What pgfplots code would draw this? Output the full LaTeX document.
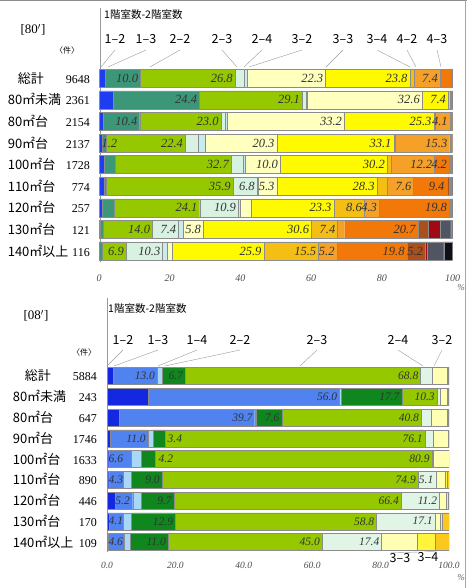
\documentclass[border=0pt]{standalone}
\usepackage{fontspec}
\setmainfont{Liberation Serif}
\newfontfamily\jp{Noto Sans CJK JP}
\usepackage{pgfplots}
\pgfplotsset{compat=1.18}
% top colours
\definecolor{c12}{RGB}{30,60,240}
\definecolor{c13}{RGB}{60,150,120}
\definecolor{c22}{RGB}{150,200,0}
\definecolor{c23}{RGB}{215,242,225}
\definecolor{c24}{RGB}{200,235,240}
\definecolor{c32}{RGB}{255,255,190}
\definecolor{c33}{RGB}{255,250,0}
\definecolor{c34}{RGB}{245,190,20}
\definecolor{c42}{RGB}{245,160,40}
\definecolor{c43}{RGB}{242,120,10}
\definecolor{cbr}{RGB}{170,80,30}
\definecolor{cdr}{RGB}{160,10,20}
\definecolor{cgr}{RGB}{80,85,100}
\definecolor{cbk}{RGB}{15,15,25}
% bottom colours
\definecolor{d12}{RGB}{20,40,225}
\definecolor{d13}{RGB}{80,130,240}
\definecolor{d14}{RGB}{170,215,245}
\definecolor{d22}{RGB}{15,135,30}
\definecolor{d23}{RGB}{150,200,0}
\definecolor{d24}{RGB}{225,245,230}
\definecolor{d32}{RGB}{255,255,180}
\definecolor{d33}{RGB}{255,245,60}
\definecolor{d34}{RGB}{250,200,30}
\newlength\ut \setlength\ut{1.7675pt}
\newlength\ub \setlength\ub{1.71pt}
% labels: node sits at the middle of the segment; box reaches to the segment end
\protected\def\T#1{\makebox[#1\ut][r]{#1\hspace{2.5pt}}}
\protected\def\B#1{\makebox[#1\ub][r]{#1\hspace{2.5pt}}}
\protected\def\sft#1#2{\makebox[0pt][l]{\hspace{#1}#2}}
\protected\def\nil{}
\protected\def\rowlab#1#2#3{\makebox[#3][l]{\jp\fontsize{13}{13}\selectfont #1}\llap{\fontsize{12}{12}\selectfont #2}}
\begin{document}
\begin{tikzpicture}[x=1pt,y=1pt]
\path[use as bounding box] (0,0) rectangle (467,588);
\draw[black!45,line width=1pt] (0,587.5) -- (467,587.5);
\draw[black!35,line width=0.8pt] (465.5,0) -- (465.5,588);
% ---------------- top chart --------------
\node[font=\fontsize{13}{13}\selectfont] at (33,558) {[80$'$]};
\node[font=\jp\fontsize{8}{8}\selectfont] at (67,538) {〈件〉};
\node[anchor=west,font=\jp\fontsize{10.5}{10.5}\selectfont,inner sep=0pt] at (104,573) {1階室数-2階室数};
\draw[black!40,line width=0.5pt] (100.5,580) -- (100.5,326);
\begin{axis}[
  at={(99pt,326.2pt)}, anchor=south west, scale only axis,
  width=353.5pt, height=194.4pt,
  xbar stacked, bar width=18pt, y dir=reverse,
  xmin=0, xmax=100, ymin=-0.5, ymax=8.5,
  axis line style={draw=none}, major tick length=0pt,
  xtick={0,20,...,100},
  xticklabel style={font=\fontsize{10}{10}\selectfont\itshape, text=black!70, yshift=-10pt},
  /pgf/number format/assume math mode=true,
  ytick={0,...,8},
  yticklabels={
    \rowlab{\hspace{10pt}総計}{9648}{82pt},
    \rowlab{80㎡未満}{2361}{82pt},
    \rowlab{80㎡台}{2154}{82pt},
    \rowlab{90㎡台}{2137}{82pt},
    \rowlab{100㎡台}{1728}{82pt},
    \rowlab{110㎡台}{774}{82pt},
    \rowlab{120㎡台}{257}{82pt},
    \rowlab{130㎡台}{121}{82pt},
    \rowlab{140㎡以上}{116}{82pt}},
  yticklabel style={anchor=east, inner sep=0pt, xshift=-9pt},
  every axis plot/.append style={draw=black!45, line width=0.3pt},
  every node near coord/.append style={anchor=west, inner sep=0pt, xshift=0pt,
     font=\fontsize{12.5}{12.5}\selectfont\itshape, text=black!80},
]
\addplot[fill=c12] coordinates {(1.7,0) (4.0,1) (1.1,2) (0.8,3) (1.5,4) (1.5,5) (0.9,6) (0.3,7) (0.0,8)};
\addplot[fill=c13, nodes near coords, point meta=explicit symbolic] coordinates {
 (10.0,0)[\T{10.0}] (24.4,1)[\T{24.4}] (10.4,2)[\T{10.4}] (1.2,3)[\sft{-3pt}{1.2}] (3.2,4)[\nil] (0.5,5)[\nil] (3.5,6)[\nil] (0.8,7)[\nil] (0.8,8)[\nil]};
\addplot[fill=c22, nodes near coords, point meta=explicit symbolic] coordinates {
 (26.8,0)[\T{26.8}] (29.1,1)[\T{29.1}] (23.0,2)[\T{23.0}] (22.4,3)[\T{22.4}] (32.7,4)[\T{32.7}] (35.9,5)[\T{35.9}] (24.1,6)[\T{24.1}] (14.0,7)[\T{14.0}] (6.9,8)[\T{6.9}]};
\addplot[fill=c23, nodes near coords, point meta=explicit symbolic] coordinates {
 (2.5,0)[\nil] (1.0,1)[\nil] (1.2,2)[\nil] (3.6,3)[\nil] (3.4,4)[\nil] (6.8,5)[\T{6.8}] (10.9,6)[\T{10.9}] (7.4,7)[\T{7.4}] (10.3,8)[\T{10.3}]};
\addplot[fill=c24] coordinates {(0.8,0) (0.3,1) (0.5,2) (2.0,3) (0.5,4) (0.3,5) (0.5,6) (1.2,7) (1.2,8)};
\addplot[fill=c32, nodes near coords, point meta=explicit symbolic] coordinates {
 (22.3,0)[\T{22.3}] (32.6,1)[\T{32.6}] (33.2,2)[\T{33.2}] (20.3,3)[\T{20.3}] (10.0,4)[\T{10.0}] (5.3,5)[\T{5.3}] (3.2,6)[\nil] (5.8,7)[\T{5.8}] (1.5,8)[\nil]};
\addplot[fill=c33, nodes near coords, point meta=explicit symbolic] coordinates {
 (23.8,0)[\T{23.8}] (7.4,1)[\T{7.4}] (25.3,2)[\T{25.3}] (33.1,3)[\T{33.1}] (30.2,4)[\T{30.2}] (28.3,5)[\T{28.3}] (23.3,6)[\T{23.3}] (30.6,7)[\T{30.6}] (25.9,8)[\T{25.9}]};
\addplot[fill=c34, nodes near coords, point meta=explicit symbolic] coordinates {
 (1.2,0)[\nil] (0.4,1)[\nil] (0.5,2)[\nil] (0.5,3)[\nil] (1.2,4)[\nil] (2.8,5)[\nil] (8.6,6)[\T{8.6}] (7.4,7)[\T{7.4}] (15.5,8)[\T{15.5}]};
\addplot[fill=c42, nodes near coords, point meta=explicit symbolic] coordinates {
 (7.4,0)[\T{7.4}] (0.5,1)[\nil] (4.1,2)[\T{4.1}] (15.3,3)[\T{15.3}] (12.2,4)[\T{12.2}] (7.6,5)[\T{7.6}] (4.3,6)[\T{4.3}] (2.0,7)[\nil] (5.2,8)[\T{5.2}]};
\addplot[fill=c43, nodes near coords, point meta=explicit symbolic] coordinates {
 (3.1,0)[\nil] (0.2,1)[\nil] (0.6,2)[\nil] (0.8,3)[\nil] (4.2,4)[\T{4.2}] (9.4,5)[\T{9.4}] (19.8,6)[\T{19.8}] (20.7,7)[\T{20.7}] (19.8,8)[\T{19.8}]};
\addplot[fill=cbr, nodes near coords, point meta=explicit symbolic] coordinates {
 (0.2,0)[\nil] (0.0,1)[\nil] (0.1,2)[\nil] (0.0,3)[\nil] (0.3,4)[\nil] (0.6,5)[\nil] (0.3,6)[\nil] (2.8,7)[\nil] (5.2,8)[\T{5.2}]};
\addplot[fill=cdr] coordinates {(0.1,0) (0.0,1) (0.0,2) (0.0,3) (0.2,4) (0.4,5) (0.2,6) (3.4,7) (0.5,8)};
\addplot[fill=cgr] coordinates {(0.1,0) (0.0,1) (0.0,2) (0.0,3) (0.2,4) (0.3,5) (0.3,6) (3.1,7) (4.7,8)};
\addplot[fill=cbk] coordinates {(0.0,0) (0.1,1) (0.0,2) (0.0,3) (0.2,4) (0.3,5) (0.1,6) (0.5,7) (2.5,8)};
\end{axis}
\node[font=\fontsize{9}{9}\selectfont\itshape,text=black!60] at (461,300) {\%};
% callouts top
\begin{scope}[every node/.style={font=\jp\fontsize{12.5}{12.5}\selectfont, inner sep=0pt}]
\foreach \lx/\sx/\t in {115/101/1–2, 146/108/1–3, 180/150/2–2, 222/237/2–3, 262/244/2–4, 302/249/3–2, 343/326/3–3, 377/410/3–4, 407/416/4–2, 437/441/4–3}{
  \node at (\lx,549) {\t};
  \draw[black!40,line width=0.4pt] (\lx,538) -- (\sx,521);
}
\end{scope}
% ---------------- bottom chart --------------
\node[font=\fontsize{13}{13}\selectfont] at (36,272) {[08$'$]};
\node[font=\jp\fontsize{8}{8}\selectfont] at (84,236) {〈件〉};
\node[anchor=west,font=\jp\fontsize{10.5}{10.5}\selectfont,inner sep=0pt] at (108,279) {1階室数-2階室数};
\draw[black!40,line width=0.5pt] (107,290) -- (107,36);
\begin{axis}[
  at={(107pt,35.6pt)}, anchor=south west, scale only axis,
  width=342pt, height=186.75pt,
  xbar stacked, bar width=17pt, y dir=reverse,
  xmin=0, xmax=100, ymin=-0.5, ymax=8.5,
  axis line style={draw=none}, major tick length=0pt,
  xtick={0,20,...,100},
  xticklabel style={font=\fontsize{9.5}{9.5}\selectfont\itshape, text=black!70, yshift=-6pt,
     /pgf/number format/.cd, fixed, fixed zerofill, precision=1},
  /pgf/number format/assume math mode=true,
  ytick={0,...,8},
  yticklabels={
    \rowlab{\hspace{12pt}総計}{5884}{84pt},
    \rowlab{80㎡未満}{243}{84pt},
    \rowlab{80㎡台}{647}{84pt},
    \rowlab{90㎡台}{1746}{84pt},
    \rowlab{100㎡台}{1633}{84pt},
    \rowlab{110㎡台}{890}{84pt},
    \rowlab{120㎡台}{446}{84pt},
    \rowlab{130㎡台}{170}{84pt},
    \rowlab{140㎡以上}{109}{84pt}},
  yticklabel style={anchor=east, inner sep=0pt, xshift=-10pt},
  every axis plot/.append style={draw=black!45, line width=0.3pt},
  every node near coord/.append style={anchor=west, inner sep=0pt, xshift=0pt,
     font=\fontsize{11.5}{11.5}\selectfont\itshape, text=black!80},
]
\addplot[fill=d12] coordinates {(1.7,0) (12.0,1) (3.5,2) (1.0,3) (0.5,4) (0.5,5) (2.3,6) (0.6,7) (0.3,8)};
\addplot[fill=d13, nodes near coords, point meta=explicit symbolic] coordinates {
 (13.0,0)[\B{13.0}] (56.0,1)[\B{56.0}] (39.7,2)[\B{39.7}] (11.0,3)[\B{11.0}] (6.6,4)[\sft{-12pt}{6.6}] (4.3,5)[\sft{-8pt}{4.3}] (5.2,6)[\sft{-9pt}{5.2}] (4.1,7)[\sft{-8pt}{4.1}] (4.6,8)[\sft{-8pt}{4.6}]};
\addplot[fill=d14] coordinates {(1.5,0) (0.5,1) (0.3,2) (1.5,3) (2.8,4) (2.3,5) (2.4,6) (2.4,7) (2.0,8)};
\addplot[fill=d22, nodes near coords, point meta=explicit symbolic] coordinates {
 (6.7,0)[\B{6.7}] (17.7,1)[\B{17.7}] (7.6,2)[\B{7.6}] (3.4,3)[\sft{8pt}{3.4}] (4.2,4)[\sft{10pt}{4.2}] (9.0,5)[\B{9.0}] (9.7,6)[\B{9.7}] (12.9,7)[\B{12.9}] (11.0,8)[\B{11.0}]};
\addplot[fill=d23, nodes near coords, point meta=explicit symbolic] coordinates {
 (68.8,0)[\B{68.8}] (10.3,1)[\B{10.3}] (40.8,2)[\B{40.8}] (76.1,3)[\B{76.1}] (80.9,4)[\B{80.9}] (74.9,5)[\B{74.9}] (66.4,6)[\B{66.4}] (58.8,7)[\B{58.8}] (45.0,8)[\B{45.0}]};
\addplot[fill=d24, nodes near coords, point meta=explicit symbolic] coordinates {
 (3.3,0)[\nil] (1.0,1)[\nil] (3.0,2)[\nil] (2.4,3)[\nil] (0.5,4)[\nil] (5.1,5)[\B{5.1}] (11.2,6)[\B{11.2}] (17.1,7)[\B{17.1}] (17.4,8)[\B{17.4}]};
\addplot[fill=d32] coordinates {(4.5,0) (2.0,1) (4.6,2) (4.3,3) (4.5,4) (2.9,5) (2.0,6) (1.6,7) (10.5,8)};
\addplot[fill=d33] coordinates {(0.3,0) (0.3,1) (0.3,2) (0.2,3) (0.0,4) (0.5,5) (0.5,6) (0.5,7) (5.2,8)};
\addplot[fill=d34] coordinates {(0.2,0) (0.2,1) (0.2,2) (0.1,3) (0.0,4) (0.5,5) (0.3,6) (2.0,7) (4.0,8)};
\end{axis}
\node[font=\fontsize{9}{9}\selectfont\itshape,text=black!60] at (461,10) {\%};
\begin{scope}[every node/.style={font=\jp\fontsize{12.5}{12.5}\selectfont, inner sep=0pt}]
\foreach \lx/\sx/\t in {123/107/1–2, 158/114/1–3, 197/158/1–4, 240/165/2–2, 317/300/2–3, 398/423/2–4, 442/434/3–2}{
  \node at (\lx,248) {\t};
  \draw[black!40,line width=0.4pt] (\lx,238) -- (\sx,222);
}
\node at (400,30) {3–3};
\node at (428,31) {3–4};
\draw[black!40,line width=0.4pt] (390,35) -- (419,36);
\draw[black!40,line width=0.4pt] (424,37) -- (437,36);
\end{scope}
\end{tikzpicture}
\end{document}
